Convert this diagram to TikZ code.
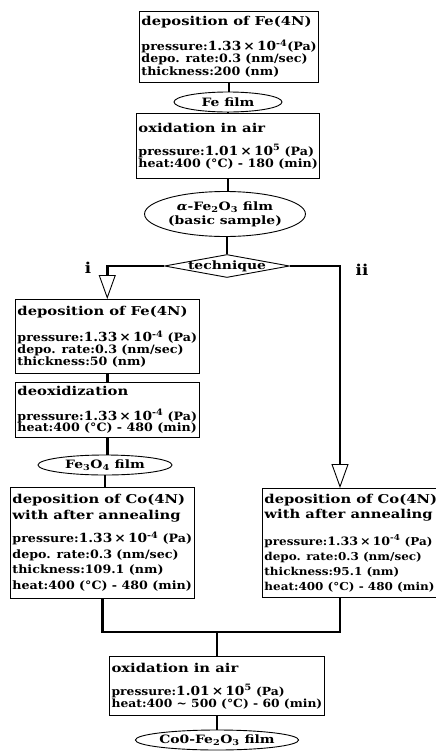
\documentclass[tikz,border=0pt]{standalone}
\usepackage{fontspec}
\setmainfont{DejaVu Serif}[FakeStretch=1.1]
\newfontfamily\hdfont{DejaVu Serif}[FakeStretch=1.21]
\usetikzlibrary{arrows.meta,shapes.geometric}

\newcommand{\hd}[1]{{\hdfont\fontsize{12.2}{15}\selectfont #1}}
\newcommand{\num}[1]{{\fontsize{12.5}{12.8}\selectfont #1}}
\newcommand{\pa}{\num{1.33\,×\,10\textsuperscript{-4}}}
\newcommand{\pb}{\num{1.01\,×\,10\textsuperscript{5}}}

\tikzset{
  stepbox/.style={draw, line width=0.9pt, anchor=north west, align=left,
    inner xsep=2pt, inner ysep=1pt, font=\bfseries\fontsize{11.5}{#1}\selectfont},
  stepbox/.default=12.5,
  film/.style={draw, ellipse, line width=0.9pt, inner sep=0pt, align=center,
    font=\hdfont\bfseries\fontsize{11.5}{14}\selectfont},
  link/.style={line width=2.6pt},
  branch/.style={link, -{Triangle[open, length=24pt, width=17pt, line width=0.9pt]}},
  tag/.style={font=\bfseries\fontsize{15}{15}\selectfont}
}

\begin{document}
\begin{tikzpicture}[x=1pt, y=-1pt]
        \useasboundingbox (0,0) rectangle (436,755);

        % main line
        \node[stepbox, minimum width=176pt, minimum height=71pt] (dep1) at (139,11)
          {\hd{deposition of Fe(4N)}\\[10pt]pressure:\pa(Pa)\\depo. rate:0.3 (nm/sec)\\thickness:200 (nm)};
        \node[film, minimum width=108pt, minimum height=20pt] (fe) at (228,102) {Fe film};
        \node[stepbox=12, minimum width=181pt, minimum height=65pt] (ox1) at (136,113)
          {\hd{oxidation in air}\\[11pt]pressure:\pb{} (Pa)\\heat:400 (°C) - 180 (min)};
        \node[film, minimum width=117pt, minimum height=45pt] (afe) at (225,214)
          {\textit{α}-Fe\textsubscript{2}O\textsubscript{3} film\\(basic sample)};
        \node[draw, diamond, aspect=5.5, line width=0.9pt, inner xsep=-15pt, inner ysep=-3pt,
          minimum width=125pt, minimum height=23pt,
          font=\hdfont\bfseries\fontsize{11.5}{12}\selectfont] (tech) at (227,266) {technique};

        % technique i
        \node[stepbox=12, minimum width=182pt, minimum height=74pt] (depL) at (15,299)
          {\hd{deposition of Fe(4N)}\\[12pt]pressure:\pa{} (Pa)\\depo. rate:0.3 (nm/sec)\\thickness:50 (nm)};
        \node[stepbox=11.5, minimum width=182pt, minimum height=55pt] (deox) at (15,382)
          {\hd{deoxidization}\\[13pt]pressure:\pa{} (Pa)\\heat:400 (°C) - 480 (min)};
        \node[film, minimum width=134pt, minimum height=20pt] (fethree) at (105,465)
          {Fe\textsubscript{3}O\textsubscript{4} film};
        \node[stepbox=15.5, minimum width=183pt, minimum height=111pt] (coL) at (10,487)
          {\hd{deposition of Co(4N)}\\[0.5pt]\hd{with after annealing}\\[7.5pt]pressure:\pa{} (Pa)\\depo. rate:0.3 (nm/sec)\\thickness:109.1 (nm)\\heat:400 (°C) - 480 (min)};

        % technique ii
        \node[stepbox=15, minimum width=173pt, minimum height=109pt,
          font=\bfseries\fontsize{10.9}{15}\selectfont] (coR) at (262,488)
          {\hd{deposition of Co(4N)}\\[0pt]\hd{with after annealing}\\[12pt]pressure:{\fontsize{11.5}{12}\selectfont 1.33\,×\,10\textsuperscript{-4}} (Pa)\\depo. rate:0.3 (nm/sec)\\thickness:95.1 (nm)\\heat:400 (°C) - 480 (min)};

        % final steps
        \node[stepbox=12, minimum width=215pt, minimum height=59pt,
          font=\bfseries\fontsize{11.2}{12}\selectfont] (ox2) at (109,656)
          {\hd{oxidation in air}\\[11pt]pressure:\pb{} (Pa)\\heat:400 \textasciitilde{} 500 (°C) - 60 (min)};
        \node[film, minimum width=141pt, minimum height=20pt] (cofe) at (217,740)
          {Co0-Fe\textsubscript{2}O\textsubscript{3} film};

        \node[tag] (ione) at (88,268) {i};
        \node[tag] (itwo) at (362,270) {ii};

        \coordinate (rbranch) at (340,632);
        \coordinate (join) at (ox2.north |- rbranch);

        \draw[link] (dep1.south) -- (fe.north -| dep1.south);
        \draw[link] (fe.south -| ox1.north) -- (ox1.north);
        \draw[link] (ox1.south) -- (afe.north -| ox1.south);
        \draw[link] (afe.south -| tech.north) -- (tech.north);
        \draw[link] (depL.south) -- (deox.north);
        \draw[link] (deox.south) -- (fethree.north -| deox.south);
        \draw[link] (fethree.south) -- (coL.north -| fethree.south);

        \draw[branch] (tech.west) -| (depL.north);
        \draw[branch] (tech.east) -| (rbranch |- coR.north);

        \draw[link] (coL.south) |- (rbranch) -- (rbranch |- coR.south);
        \draw[link] (join) -- (ox2.north);
        \draw[link] (ox2.south) -- (cofe.north -| ox2.south);
    \end{tikzpicture}
\end{document}
